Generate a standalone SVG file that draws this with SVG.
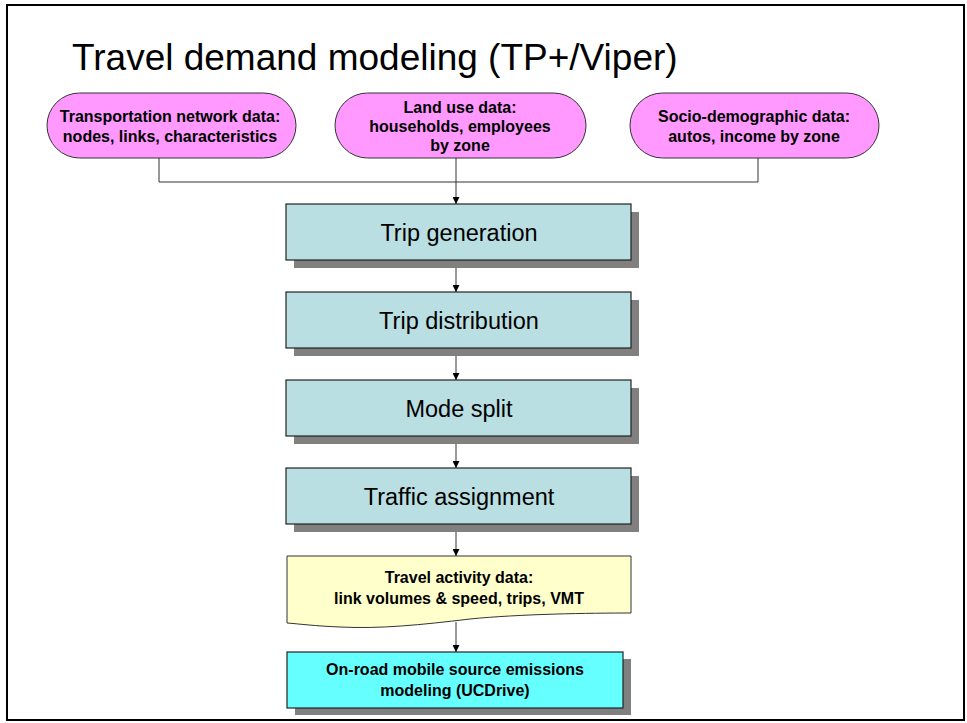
<svg xmlns="http://www.w3.org/2000/svg" width="967" height="723" viewBox="0 0 967 723">
<defs>
<style>
.title{font-family:"Liberation Sans",Arial,sans-serif;font-size:37px;fill:#000}
.stad{fill:#FF99FF;stroke:#333;stroke-width:1}
.stxt{font-family:"Liberation Sans",Arial,sans-serif;font-size:16px;font-weight:bold;fill:#000;text-anchor:middle}
.box{fill:#B9DFE2;stroke:#222;stroke-width:1.2}
.shadow{fill:#808080}
.btxt{font-family:"Liberation Sans",Arial,sans-serif;font-size:23.5px;fill:#000;text-anchor:middle}
.dtxt{font-family:"Liberation Sans",Arial,sans-serif;font-size:16px;font-weight:bold;fill:#000;text-anchor:middle}
.doc{fill:#FFFFCC;stroke:#333;stroke-width:1}
.cyan{fill:#66FFFF;stroke:#222;stroke-width:1.2}
.conn{fill:none;stroke:#333;stroke-width:1}
</style>
<marker id="arr" viewBox="0 0 10 10" refX="10" refY="5" markerWidth="8" markerHeight="7" markerUnits="userSpaceOnUse" orient="auto">
<path d="M0,0 L10,5 L0,10 z" fill="#000"/>
</marker>
</defs>
<rect x="0" y="0" width="967" height="723" fill="#fff"/>
<rect x="7" y="5" width="957" height="715" fill="#fff" stroke="#000" stroke-width="2"/>
<text class="title" x="72" y="70">Travel demand modeling (TP+/Viper)</text>

<g id="connectors">
<path class="conn" d="M159,158 V182 H758 V158"/>
<path class="conn" d="M456,158 V204" marker-end="url(#arr)"/>
<path class="conn" d="M456,260 V292" marker-end="url(#arr)"/>
<path class="conn" d="M456,348 V380" marker-end="url(#arr)"/>
<path class="conn" d="M456,436 V468" marker-end="url(#arr)"/>
<path class="conn" d="M456,524 V556" marker-end="url(#arr)"/>
<path class="conn" d="M456,622 V652" marker-end="url(#arr)"/>
</g>

<g id="transport">
<rect class="stad" x="47" y="93" width="249" height="65" rx="32.5" ry="32.5"/>
<text class="stxt" x="170" y="122">Transportation network data:</text>
<text class="stxt" x="170" y="142">nodes, links, characteristics</text>
</g>
<g id="landuse">
<rect class="stad" x="335" y="93" width="251" height="65" rx="32.5" ry="32.5"/>
<text class="stxt" x="460" y="113">Land use data:</text>
<text class="stxt" x="460" y="132">households, employees</text>
<text class="stxt" x="460" y="151">by zone</text>
</g>
<g id="socio">
<rect class="stad" x="630" y="93" width="249" height="65" rx="32.5" ry="32.5"/>
<text class="stxt" x="754" y="122">Socio-demographic data:</text>
<text class="stxt" x="754" y="142">autos, income by zone</text>
</g>

<g id="tripgen">
<rect class="shadow" x="294" y="212" width="345" height="56"/>
<rect class="box" x="286" y="204" width="345" height="56"/>
<text class="btxt" x="459" y="241">Trip generation</text>
</g>
<g id="tripdist">
<rect class="shadow" x="294" y="300" width="345" height="56"/>
<rect class="box" x="286" y="292" width="345" height="56"/>
<text class="btxt" x="459" y="329">Trip distribution</text>
</g>
<g id="modesplit">
<rect class="shadow" x="294" y="388" width="345" height="56"/>
<rect class="box" x="286" y="380" width="345" height="56"/>
<text class="btxt" x="459" y="417">Mode split</text>
</g>
<g id="traffic">
<rect class="shadow" x="294" y="476" width="345" height="56"/>
<rect class="box" x="286" y="468" width="345" height="56"/>
<text class="btxt" x="459" y="505">Traffic assignment</text>
</g>
<g id="activity">
<path class="doc" d="M287,556 H631 V613 C590,613 520,614 470,619 C420,625 380,629 340,627 C315,626 300,624 287,623 Z"/>
<text class="dtxt" x="459" y="583">Travel activity data:</text>
<text class="dtxt" x="459" y="604">link volumes &amp; speed, trips, VMT</text>
</g>
<g id="emissions">
<rect class="shadow" x="295" y="659" width="336" height="56"/>
<rect class="cyan" x="287" y="652" width="336" height="56"/>
<text class="dtxt" x="455" y="675">On-road mobile source emissions</text>
<text class="dtxt" x="455" y="696">modeling (UCDrive)</text>
</g>
</svg>
